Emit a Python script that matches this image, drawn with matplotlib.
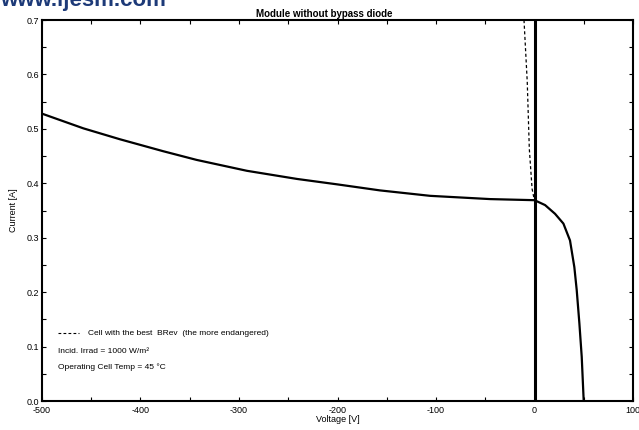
import numpy as np
import matplotlib
matplotlib.use('Agg')
import matplotlib.pyplot as plt
from matplotlib.ticker import MultipleLocator

plt.rcParams['font.family'] = ['Liberation Sans', 'DejaVu Sans']
plt.rcParams['axes.unicode_minus'] = False

# module I-V curve
volt_rev = [-500, -458, -421, -377, -343, -292, -241, -200, -157, -106, -45, 0]
curr_rev = [0.528, 0.501, 0.481, 0.459, 0.443, 0.423, 0.408, 0.398, 0.387, 0.377, 0.371, 0.369]
volt_fwd = [0, 10.7, 20.8, 29.3, 36, 40.4, 42.8, 45.5, 47.9, 49.9]
curr_fwd = [0.369, 0.360, 0.344, 0.326, 0.295, 0.246, 0.204, 0.143, 0.081, 0.0]
# worst cell (dashed)
volt_cell = [-10.7, -7.4, -5.3, -2.5, -0.2]
curr_cell = [0.70, 0.586, 0.463, 0.39, 0.369]

fig = plt.figure(figsize=(6.39, 4.30), dpi=100)
ax = fig.add_axes([0.0657, 0.0674, 0.925, 0.886])

ax.plot(volt_rev + volt_fwd[1:], curr_rev + curr_fwd[1:], color='black', lw=1.6)
ax.plot(volt_cell, curr_cell, color='black', lw=0.9, ls=(0, (2.5, 2)))
ax.axvline(0, color='black', lw=2.2)

ax.set_xlim(-500, 100)
ax.set_ylim(0, 0.7)
ax.xaxis.set_major_locator(MultipleLocator(100))
ax.xaxis.set_minor_locator(MultipleLocator(50))
ax.yaxis.set_major_locator(MultipleLocator(0.1))
ax.yaxis.set_minor_locator(MultipleLocator(0.05))
ax.tick_params(which='both', direction='in', top=True, right=True, labelsize=6.5,
               length=3, width=0.8, pad=2)
ax.tick_params(axis='x', pad=3.5)
for s in ax.spines.values():
    s.set_linewidth(1.5)

ax.set_xlabel('Voltage [V]', fontsize=6.5, labelpad=0)
ax.set_ylabel('Current [A]', fontsize=6.5, labelpad=6)
fig.text(0.507, 0.967, 'Module without bypass diode', fontsize=7, fontweight='bold',
         ha='center', va='center')

# legend-ish notes
ax.plot([-484, -462], [0.1245, 0.1245], color='black', lw=0.8, ls=(0, (2.5, 2)))
ax.text(-453, 0.1245, 'Cell with the best  BRev  (the more endangered)', fontsize=6,
        va='center')
ax.text(-484, 0.0915, 'Incid. Irrad = 1000 W/m²', fontsize=6, va='center')
ax.text(-484, 0.0615, 'Operating Cell Temp = 45 °C', fontsize=6, va='center')

fig.text(0.0, 0.986, 'www.ijesm.com', fontsize=16, fontweight='bold', color='#1d3a78',
         ha='left', va='baseline')

fig.savefig('out.png', dpi=100)
